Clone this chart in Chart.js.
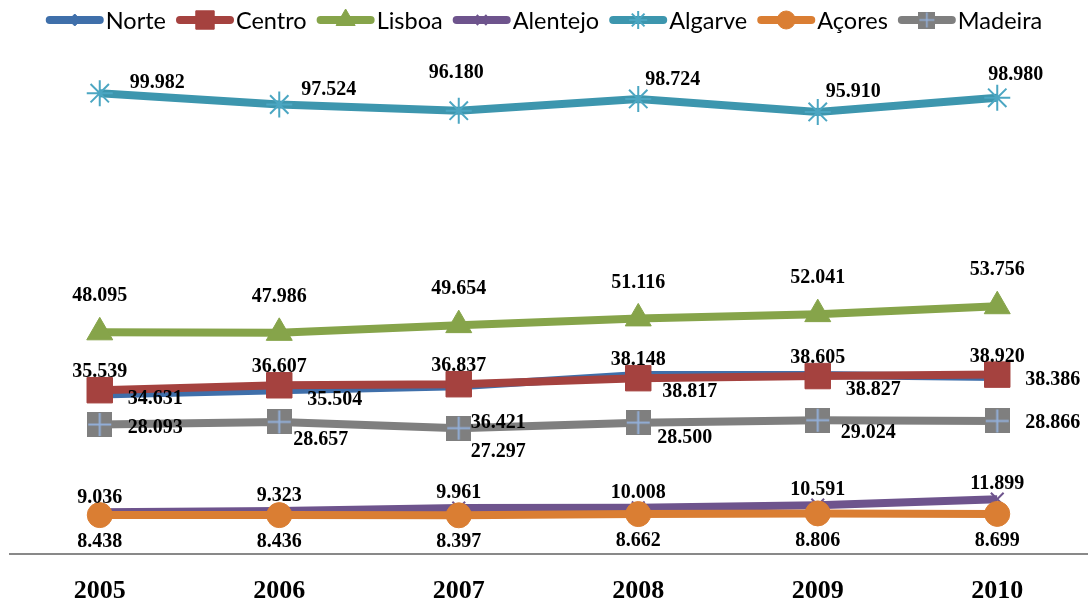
<!DOCTYPE html>
<html>
<head>
<meta charset="utf-8">
<title>Regiões 2005-2010</title>
<script src="https://cdn.jsdelivr.net/npm/chart.js@4.4.0/dist/chart.umd.min.js"></script>
<style>
  html, body { margin: 0; padding: 0; background: #fff; }
</style>
</head>
<body>
<canvas id="chart" width="1088" height="608"></canvas>
<script>
const years = ["2005", "2006", "2007", "2008", "2009", "2010"];
const norte = [34631, 35504, 36421, 38817, 38827, 38386];
const centro = [35539, 36607, 36837, 38148, 38605, 38920];
const lisboa = [48095, 47986, 49654, 51116, 52041, 53756];
const alentejo = [9036, 9323, 9961, 10008, 10591, 11899];
const algarve = [99982, 97524, 96180, 98724, 95910, 98980];
const acores = [8438, 8436, 8397, 8662, 8806, 8699];
const madeira = [28093, 28657, 27297, 28500, 29024, 28866];

const labelFont = "bold 20px 'Liberation Serif', serif";
const legendFont = "23.5px Lato, 'Open Sans', sans-serif";

// grey square with a light blue cross, used as Madeira marker
function crossBox(size) {
  const c = document.createElement("canvas");
  c.width = size;
  c.height = size;
  const g = c.getContext("2d");
  g.fillStyle = "#7F7F7F";
  g.fillRect(0, 0, size, size);
  g.strokeStyle = "#93B0DA";
  g.lineWidth = size > 20 ? 2 : 1.5;
  g.beginPath();
  g.moveTo(size / 2, 1);
  g.lineTo(size / 2, size - 1);
  g.moveTo(1, size / 2);
  g.lineTo(size - 1, size / 2);
  g.stroke();
  return c;
}

const series = [
  { label: "Norte", data: norte, color: "#3F6FAA", point: "rectRot", radius: 7, legendRadius: 6,
    lbl: { align: "left", dx: [28, 28, 12, 24, 28, 28], dy: [4, 9, 37, 17, 15, 3] } },
  { label: "Centro", data: centro, color: "#A5423F", point: "rect", radius: 18, legendRadius: 13,
    lbl: { align: "center", dx: 0, dy: -18 } },
  { label: "Lisboa", data: lisboa, color: "#86A44A", point: "triangle", radius: 15, legendRadius: 11,
    lbl: { align: "center", dx: 0, dy: -36 } },
  { label: "Alentejo", data: alentejo, color: "#6E548D", point: "crossRot", radius: 9, legendRadius: 7, border: 2,
    lbl: { align: "center", dx: 0, dy: -15 } },
  { label: "Algarve", data: algarve, color: "#3D96AE", point: "star", radius: 13, legendRadius: 9, border: 2,
    pointColor: "#4BA6C2",
    lbl: { align: "left", dx: [30, 22, -30, 7, 8, -9], dy: [-10, -15, -38, -19, -20, -23] } },
  { label: "Açores", data: acores, color: "#DA7E33", point: "circle", radius: 12.5, legendRadius: 9,
    lbl: { align: "center", dx: 0, dy: 27 } },
  { label: "Madeira", data: madeira, color: "#7F7F7F", point: crossBox(25), legendPoint: crossBox(17),
    radius: 13, legendRadius: 9,
    lbl: { align: "left", dx: [28, 14, 12, 19, 23, 28], dy: [3, 18, 24, 15, 13, 2] } },
];

function fmt(v) {
  return String(v).replace(/\B(?=(\d{3})+(?!\d))/g, ".");
}

function pick(v, i) {
  return Array.isArray(v) ? v[i] : v;
}

const valueLabels = {
  id: "valueLabels",
  afterDatasetsDraw(chart) {
    const ctx = chart.ctx;
    ctx.save();
    ctx.font = labelFont;
    ctx.fillStyle = "#000";
    ctx.textBaseline = "middle";
    chart.data.datasets.forEach((ds, k) => {
      const s = series[k];
      const meta = chart.getDatasetMeta(k);
      meta.data.forEach((pt, i) => {
        ctx.textAlign = s.lbl.align;
        ctx.fillText(fmt(ds.data[i]), pt.x + pick(s.lbl.dx, i), pt.y + pick(s.lbl.dy, i));
      });
    });
    ctx.restore();
  },
};

// legend drawn by hand: thick line sample with the marker in the middle
const lineLegend = {
  id: "lineLegend",
  afterDraw(chart) {
    const ctx = chart.ctx;
    const sampleW = 58;
    const gap = 2;
    const itemGap = 10;
    const cy = 20;
    ctx.save();
    ctx.font = legendFont;
    const widths = series.map((s) => ctx.measureText(s.label).width);
    let total = widths.reduce((a, b) => a + b, 0) + series.length * (sampleW + gap) + (series.length - 1) * itemGap;
    let x = (chart.width - total) / 2;
    series.forEach((s, k) => {
      ctx.strokeStyle = s.color;
      ctx.lineWidth = 8;
      ctx.lineCap = "round";
      ctx.beginPath();
      ctx.moveTo(x + 4, cy);
      ctx.lineTo(x + sampleW - 4, cy);
      ctx.stroke();
      ctx.fillStyle = s.color;
      ctx.strokeStyle = s.pointColor || s.color;
      ctx.lineWidth = s.border || 1;
      ctx.lineCap = "butt";
      Chart.helpers.drawPoint(ctx, {
        pointStyle: s.legendPoint || s.point,
        radius: s.legendRadius,
        rotation: 0,
        borderWidth: s.border || 1,
      }, x + sampleW / 2, cy);
      ctx.fillStyle = "#000";
      ctx.textAlign = "left";
      ctx.textBaseline = "middle";
      ctx.fillText(s.label, x + sampleW + gap, cy + 1);
      x += sampleW + gap + widths[k] + itemGap;
    });
    ctx.restore();
  },
};

const datasets = series.map((s, k) => ({
  label: s.label,
  data: s.data,
  borderColor: s.color,
  backgroundColor: s.color,
  borderWidth: 8,
  pointStyle: s.point,
  pointRadius: s.radius,
  pointBackgroundColor: s.color,
  pointBorderColor: s.pointColor || s.color,
  pointBorderWidth: s.border || 1,
  tension: 0,
  clip: false,
  order: series.length - k,
}));

new Chart(document.getElementById("chart"), {
  type: "line",
  data: { labels: years, datasets: datasets },
  options: {
    responsive: false,
    animation: false,
    layout: { autoPadding: false, padding: { top: 47, left: 10, right: 1, bottom: 0 } },
    plugins: {
      legend: { display: false },
      tooltip: { enabled: false },
    },
    scales: {
      x: {
        offset: true,
        grid: { display: false, drawTicks: false },
        border: { display: true, color: "#898989", width: 2 },
        ticks: {
          padding: 22,
          color: "#000",
          font: { family: "'Liberation Serif', serif", size: 26, weight: "bold" },
        },
        afterFit: (scale) => { scale.height = 54; },
      },
      y: {
        display: false,
        min: 0,
        max: 110000,
      },
    },
  },
  plugins: [valueLabels, lineLegend],
});
</script>
</body>
</html>
